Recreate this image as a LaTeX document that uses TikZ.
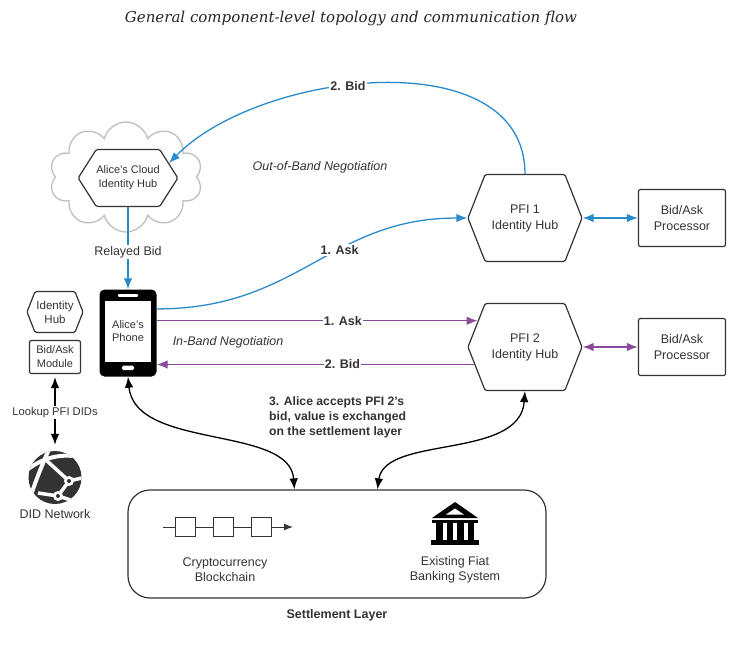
\documentclass[tikz,border=0pt]{standalone}
\usepackage{fontspec}
\setmainfont{Liberation Sans}
\newfontfamily\titlefont{DejaVu Serif}
\usetikzlibrary{shapes.geometric, shapes.symbols, arrows.meta, positioning, calc}
\definecolor{flowblue}{HTML}{2A8BCB}
\definecolor{flowpurple}{HTML}{8A4A9C}
\definecolor{flowgray}{HTML}{333333}

\begin{document}
\begin{tikzpicture}[
  x=1pt, y=-1pt,
  hub/.style={
    signal,
    signal to=west and east,
    signal pointer angle=#1,
    draw=flowgray,
    line width=1.2pt,
    rounded corners=1.5pt,
    inner sep=0pt,
    align=center,
    text=flowgray,
    font=\fontsize{12.5}{16}\selectfont
  },
  proc/.style={
    rectangle,
    rounded corners=2pt,
    draw=flowgray,
    line width=1.2pt,
    minimum width=87pt,
    minimum height=57pt,
    align=center,
    text=flowgray,
    font=\fontsize{12.5}{16}\selectfont
  },
  small/.style={font=\fontsize{11}{14}\selectfont, text=flowgray, align=center},
  lbl/.style={fill=white, inner sep=1pt, text=flowgray, font=\bfseries\fontsize{12.5}{15}\selectfont},
  note/.style={text=flowgray, font=\itshape\fontsize{12.5}{15}\selectfont},
  flow/.style={line width=1.3pt, -{Latex[length=11pt, width=8.5pt]}},
  both/.style={line width=1.3pt, {Latex[length=11pt, width=8.5pt]}-{Latex[length=11pt, width=8.5pt]}}
]
  \useasboundingbox (0,0) rectangle (745,649);

  \node[font=\titlefont\itshape\fontsize{15}{17}\selectfont, text=black!85] (title) at (351,18) {General component-level topology and communication flow};

  \node[cloud, cloud puffs=10, aspect=1.4, draw=gray!50, line width=1.3pt, minimum width=153pt, minimum height=110pt] (cloud) at (126,177) {};
  \node[hub=115, minimum width=97pt, minimum height=57pt, fill=white, small] (cloudhub) at (128,178) {Alice's Cloud\\Identity Hub};

  \node[rectangle, fill=black, rounded corners=5pt, minimum width=57pt, minimum height=87pt] (phone) at (128,333) {};
  \node[rectangle, fill=white, minimum width=46pt, minimum height=61pt, small, font=\fontsize{11}{13.5}\selectfont] (screen) at (128,331) {Alice's\\Phone};
  \draw[white, line width=2.5pt, line cap=round] (119,295.5) -- (137,295.5);
  \fill[white, rounded corners=1.5pt] (122,365.5) rectangle (134,370);

  \node[hub=137, minimum width=56pt, minimum height=41pt, small, font=\fontsize{11.5}{14}\selectfont] (sidehub) at (55,312) {Identity\\Hub};
  \node[rectangle, draw=flowgray, line width=1.2pt, rounded corners=2pt, minimum width=51pt, minimum height=33pt, small] (module) at (55,357) {Bid/Ask\\Module};

  \node[circle, fill=flowgray, minimum size=53pt, inner sep=0pt] (didnet) at (55,477.5) {};
  \begin{scope}
    \clip (55,477.5) circle (26.5);
    \draw[white, line width=4pt] (27,470) .. controls (42,458) and (62,452) .. (84,458);
    \draw[white, line width=4pt] (50,447) .. controls (42,465) and (36,480) .. (30,498);
    \draw[white, line width=3.5pt] (46,460) -- (69,481) -- (86,477);
    \draw[white, line width=3.5pt] (69,481) -- (58,496) -- (38,493);
    \draw[white, line width=3.5pt] (58,496) -- (80,503);
    \fill[white] (69,481) circle (5) (58,496) circle (5);
    \fill[flowgray] (69,481) circle (2) (58,496) circle (2);
  \end{scope}
  \node[below=2pt of didnet, text=flowgray, font=\fontsize{12.5}{15}\selectfont] (didlabel) {DID Network};

  \node[hub=137, minimum width=114pt, minimum height=87pt] (pfione) at (525,218) {PFI 1\\Identity Hub};
  \node[hub=137, minimum width=114pt, minimum height=87pt] (pfitwo) at (525,347) {PFI 2\\Identity Hub};
  \node[proc] (procone) at (682,218) {Bid/Ask\\Processor};
  \node[proc] (proctwo) at (682,347) {Bid/Ask\\Processor};

  \node[rectangle, draw=flowgray, line width=1.2pt, rounded corners=22pt, minimum width=418pt, minimum height=108pt] (settle) at (337,544) {};
  \node[below=10pt of settle, lbl] (settlelabel) {Settlement Layer};

  \draw[flowgray, line width=1pt, -{Latex[length=9pt, width=7pt]}] (163,527) -- (293,527);
  \foreach \x in {175,213,251}
    \draw[flowgray, line width=1pt, fill=white] (\x,517.5) rectangle +(20,19);
  \node[text=flowgray, font=\fontsize{12.5}{15}\selectfont, align=center] (chain) at (225,570) {Cryptocurrency\\Blockchain};

  \fill[black] (432,518) -- (455,502) -- (478,518) -- cycle;
  \fill[white] (446,514.5) -- (455,508.5) -- (464,514.5) -- cycle;
  \fill[black] (432,519.5) rectangle (478,522.5);
  \foreach \x in {436,446.5,457,467.5}
    \fill[black] (\x,523) rectangle +(6.5,17);
  \fill[black] (431,540) rectangle (479,545);
  \node[text=flowgray, font=\fontsize{12.5}{15}\selectfont, align=center] (bank) at (455,570) {Existing Fiat\\Banking System};

  \node[note] (outband) at (320,167) {Out-of-Band Negotiation};
  \node[note] (inband) at (228,342) {In-Band Negotiation};
  \node[lbl, fill=none, align=left, anchor=north west, font=\bfseries\fontsize{12.2}{15}\selectfont] (accept) at (268,395) {3. Alice accepts PFI 2's\\bid, value is exchanged\\on the settlement layer};

  \draw[flow, flowblue] (cloudhub.south) -- node[pos=0.55, lbl, font=\fontsize{12.5}{15}\selectfont] {Relayed Bid} (phone.north);
  \draw[flow, flowblue] (pfione.north) .. controls (525,40) and (260,70) .. node[pos=0.57, lbl] {2. Bid} (cloudhub.20);
  \draw[flow, flowblue] (phone.40) .. controls +(143,0) and +(-138,0) .. node[pos=0.6, lbl] {1. Ask} (pfione.west);
  \draw[both, flowblue] (pfione.east) -- (procone.west);

  \draw[flow, flowpurple] (phone.east |- pfitwo.151) -- node[pos=0.58, lbl] {1. Ask} (pfitwo.151);
  \draw[flow, flowpurple] (pfitwo.199) -- node[pos=0.415, lbl] {2. Bid} (phone.east |- pfitwo.199);
  \draw[both, flowpurple] (pfitwo.east) -- (proctwo.west);

  \draw[both, black] (phone.south) .. controls (135,450) and (290,425) .. ([xshift=167pt]settle.north west);
  \draw[both, black] (pfitwo.south) .. controls (520,460) and (385,435) .. ([xshift=250pt]settle.north west);
  \draw[both, black, shorten <=3pt, shorten >=6pt] (module.south) -- node[lbl, font=\fontsize{11.2}{14}\selectfont] {Lookup PFI DIDs} (didnet.north);
\end{tikzpicture}
\end{document}
